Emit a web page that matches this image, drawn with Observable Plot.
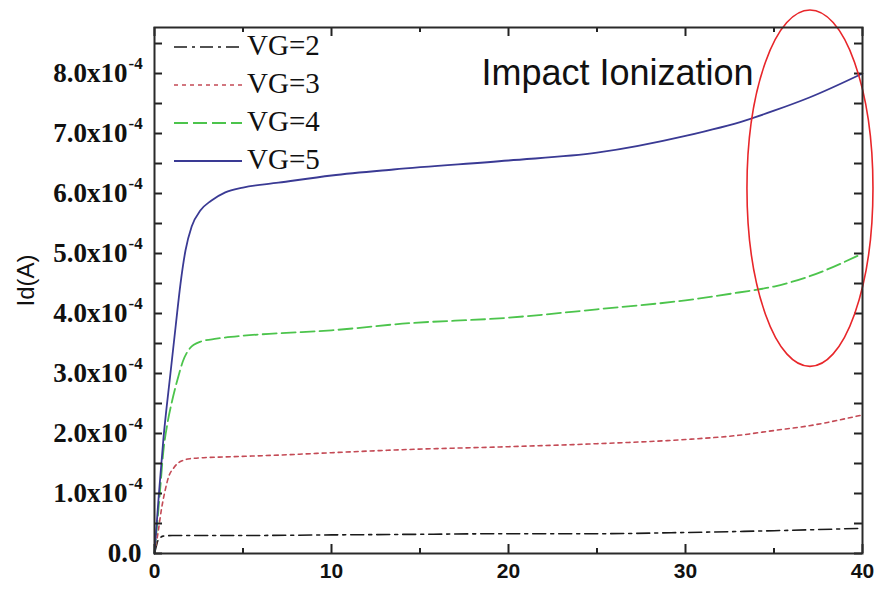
<!DOCTYPE html>
<html>
<head>
<meta charset="utf-8">
<script src="https://cdn.jsdelivr.net/npm/d3@7"></script>
<script src="https://cdn.jsdelivr.net/npm/@observablehq/plot@0.6"></script>
<style>
  html, body { margin: 0; padding: 0; background: #fff; }
  #chart svg { display: block; }
</style>
</head>
<body>
<div id="chart"></div>
<script>
// ---------- data (Id in units of 1e-4 A) ----------
const seriesNames = ["VG=2", "VG=3", "VG=4", "VG=5"];

const vdVG2 = [0, 0.1, 0.2, 0.5, 1, 2, 5, 10, 15, 20, 25, 30, 35, 40];
const idVG2 = [0, 0.12, 0.22, 0.29, 0.30, 0.30, 0.30, 0.31, 0.32, 0.33, 0.33, 0.35, 0.38, 0.42];

const vdVG3 = [0, 0.2, 0.4, 0.6, 0.8, 1.07, 1.3, 1.6, 2, 3, 4, 7, 10, 14, 20, 25, 30, 33, 35, 37, 40];
const idVG3 = [0, 0.35, 0.75, 1.05, 1.28, 1.42, 1.5, 1.55, 1.58, 1.6, 1.61, 1.64, 1.68, 1.73, 1.78, 1.83, 1.9, 1.97, 2.05, 2.13, 2.31];

const vdVG4 = [0, 0.3, 0.5, 0.75, 1.0, 1.3, 1.6, 2.0, 2.6, 3.5, 5, 7, 10, 14, 20, 25, 30, 33, 35, 37, 40];
const idVG4 = [0, 1.0, 1.7, 2.2, 2.55, 2.9, 3.2, 3.42, 3.53, 3.58, 3.63, 3.67, 3.72, 3.83, 3.93, 4.07, 4.22, 4.35, 4.45, 4.62, 5.0];

const vdVG5 = [0, 0.25, 0.5, 0.9, 1.2, 1.47, 1.75, 2.1, 2.6, 3.2, 4, 5, 7, 10, 13.5, 20, 25, 30, 33.4, 35, 37, 40];
const idVG5 = [0, 1.0, 1.9, 3.0, 3.8, 4.5, 5.05, 5.45, 5.72, 5.88, 6.02, 6.1, 6.18, 6.3, 6.4, 6.55, 6.68, 6.96, 7.22, 7.38, 7.6, 8.0];

const idScale = 1e-4;

// ---------- ticks / labels ----------
const xDomain = [0, 40];
const yDomain = [0, 8.767];   // x 1e-4
const xMajorTicks = [0, 10, 20, 30, 40];
const xMinorTicks = [5, 15, 25, 35];
const yMajorTicks = [1, 2, 3, 4, 5, 6, 7, 8];           // x 1e-4, labelled with exponent
const yZeroTick = [0];
const yAllTicks = [0, 0.5, 1, 1.5, 2, 2.5, 3, 3.5, 4, 4.5, 5, 5.5, 6, 6.5, 7, 7.5, 8, 8.5];
const yExponent = "-4";
const yTitle = "Id(A)";
const annotation = "Impact Ionization";
const ellipseCenter = [37.06, 6.08];   // data units (Vd, Id/1e-4)
const ellipseRadii = [3.56, 2.97];

// ---------- styles ----------
const styles = [
  {color: "#1a1a1a", width: 1.6, dash: "13,5,3,5"},
  {color: "#c44a55", width: 1.6, dash: "4,4"},
  {color: "#4cc44c", width: 1.8, dash: "14,5"},
  {color: "#3a3a94", width: 1.8, dash: null}
];

const vds = [vdVG2, vdVG3, vdVG4, vdVG5];
const ids = [idVG2, idVG3, idVG4, idVG5];
const rows = seriesNames.map((name, i) => vds[i].map((v, j) => ({series: name, vd: v, id: ids[i][j] * idScale})));

const serif = "'Liberation Serif', 'Times New Roman', serif";
const sans = "'Liberation Sans', Arial, sans-serif";

const W = 874, H = 589, mL = 154, mR = 12, mT = 27, mB = 36;
const frameW = W - mL - mR, frameH = H - mT - mB;
const tickStyle = {stroke: "#222", strokeWidth: 2};

function legendMark(index, scales, values, dimensions) {
  const g = d3.create("svg:g");
  const x0 = dimensions.marginLeft, y0 = dimensions.marginTop;
  seriesNames.forEach((name, i) => {
    const s = styles[i];
    const y = y0 + 20 + i * 38;
    const ln = g.append("line")
      .attr("x1", x0 + 20).attr("x2", x0 + 88)
      .attr("y1", y).attr("y2", y)
      .attr("stroke", s.color).attr("stroke-width", s.width);
    if (s.dash) ln.attr("stroke-dasharray", s.dash);
    g.append("text")
      .attr("x", x0 + 93).attr("y", y + 8)
      .attr("text-anchor", "start")
      .attr("font-family", serif).attr("font-size", 29)
      .attr("fill", "#111")
      .text(name);
  });
  return g.node();
}

function ellipseMark(index, scales) {
  const cx = scales.x(ellipseCenter[0]);
  const cy = scales.y(ellipseCenter[1] * idScale);
  const rx = scales.x(ellipseCenter[0] + ellipseRadii[0]) - cx;
  const ry = cy - scales.y((ellipseCenter[1] + ellipseRadii[1]) * idScale);
  return d3.create("svg:ellipse")
    .attr("cx", cx).attr("cy", cy).attr("rx", rx).attr("ry", ry)
    .attr("fill", "none").attr("stroke", "#e8262a").attr("stroke-width", 1.6)
    .node();
}

const chart = Plot.plot({
  width: W,
  height: H,
  marginLeft: mL,
  marginRight: mR,
  marginTop: mT,
  marginBottom: mB,
  x: {domain: xDomain, axis: null},
  y: {domain: yDomain.map(d => d * idScale), axis: null},
  marks: [
    // series
    ...rows.map((data, i) => Plot.line(data, {
      x: "vd", y: "id", curve: "monotone-x",
      stroke: styles[i].color, strokeWidth: styles[i].width,
      strokeDasharray: styles[i].dash
    })),
    // inward ticks on all four sides
    Plot.ruleX(xMajorTicks, {x: d => d, insetTop: frameH - 9, ...tickStyle}),
    Plot.ruleX(xMajorTicks, {x: d => d, insetBottom: frameH - 9, ...tickStyle}),
    Plot.ruleX(xMinorTicks, {x: d => d, insetTop: frameH - 5, ...tickStyle}),
    Plot.ruleX(xMinorTicks, {x: d => d, insetBottom: frameH - 5, ...tickStyle}),
    Plot.ruleY(yAllTicks, {y: d => d * idScale, insetRight: frameW - 8, ...tickStyle}),
    Plot.ruleY(yAllTicks, {y: d => d * idScale, insetLeft: frameW - 8, ...tickStyle}),
    // tick labels
    Plot.text(xMajorTicks, {x: d => d, text: d => String(d), frameAnchor: "bottom", dy: 24,
      fontFamily: sans, fontWeight: "bold", fontSize: 21, fill: "#111"}),
    Plot.text(yMajorTicks, {y: d => d * idScale, text: d => d.toFixed(1) + "x10", frameAnchor: "left",
      dx: -27, textAnchor: "end", fontFamily: serif, fontWeight: "bold", fontSize: 27, fill: "#111"}),
    Plot.text(yMajorTicks, {y: d => d * idScale, text: () => yExponent, frameAnchor: "left",
      dx: -26, dy: -10, textAnchor: "start", fontFamily: serif, fontWeight: "bold", fontSize: 17, fill: "#111"}),
    Plot.text(yZeroTick, {y: d => d * idScale, text: d => d.toFixed(1), frameAnchor: "left",
      dx: -13, textAnchor: "end", fontFamily: serif, fontWeight: "bold", fontSize: 27, fill: "#111"}),
    // y title
    Plot.text([yTitle], {text: d => d, frameAnchor: "left", dx: -128, dy: 16, rotate: -90,
      fontFamily: sans, fontSize: 24, fill: "#111"}),
    // annotation
    Plot.text([annotation], {text: d => d, frameAnchor: "top-left", dx: 327, dy: 57,
      textAnchor: "start", lineAnchor: "bottom", fontFamily: sans, fontSize: 36, fill: "#111"}),
    legendMark,
    ellipseMark,
    Plot.frame({stroke: "#2a2a2a", strokeWidth: 2})
  ]
});

document.getElementById("chart").appendChild(chart);
</script>
</body>
</html>
